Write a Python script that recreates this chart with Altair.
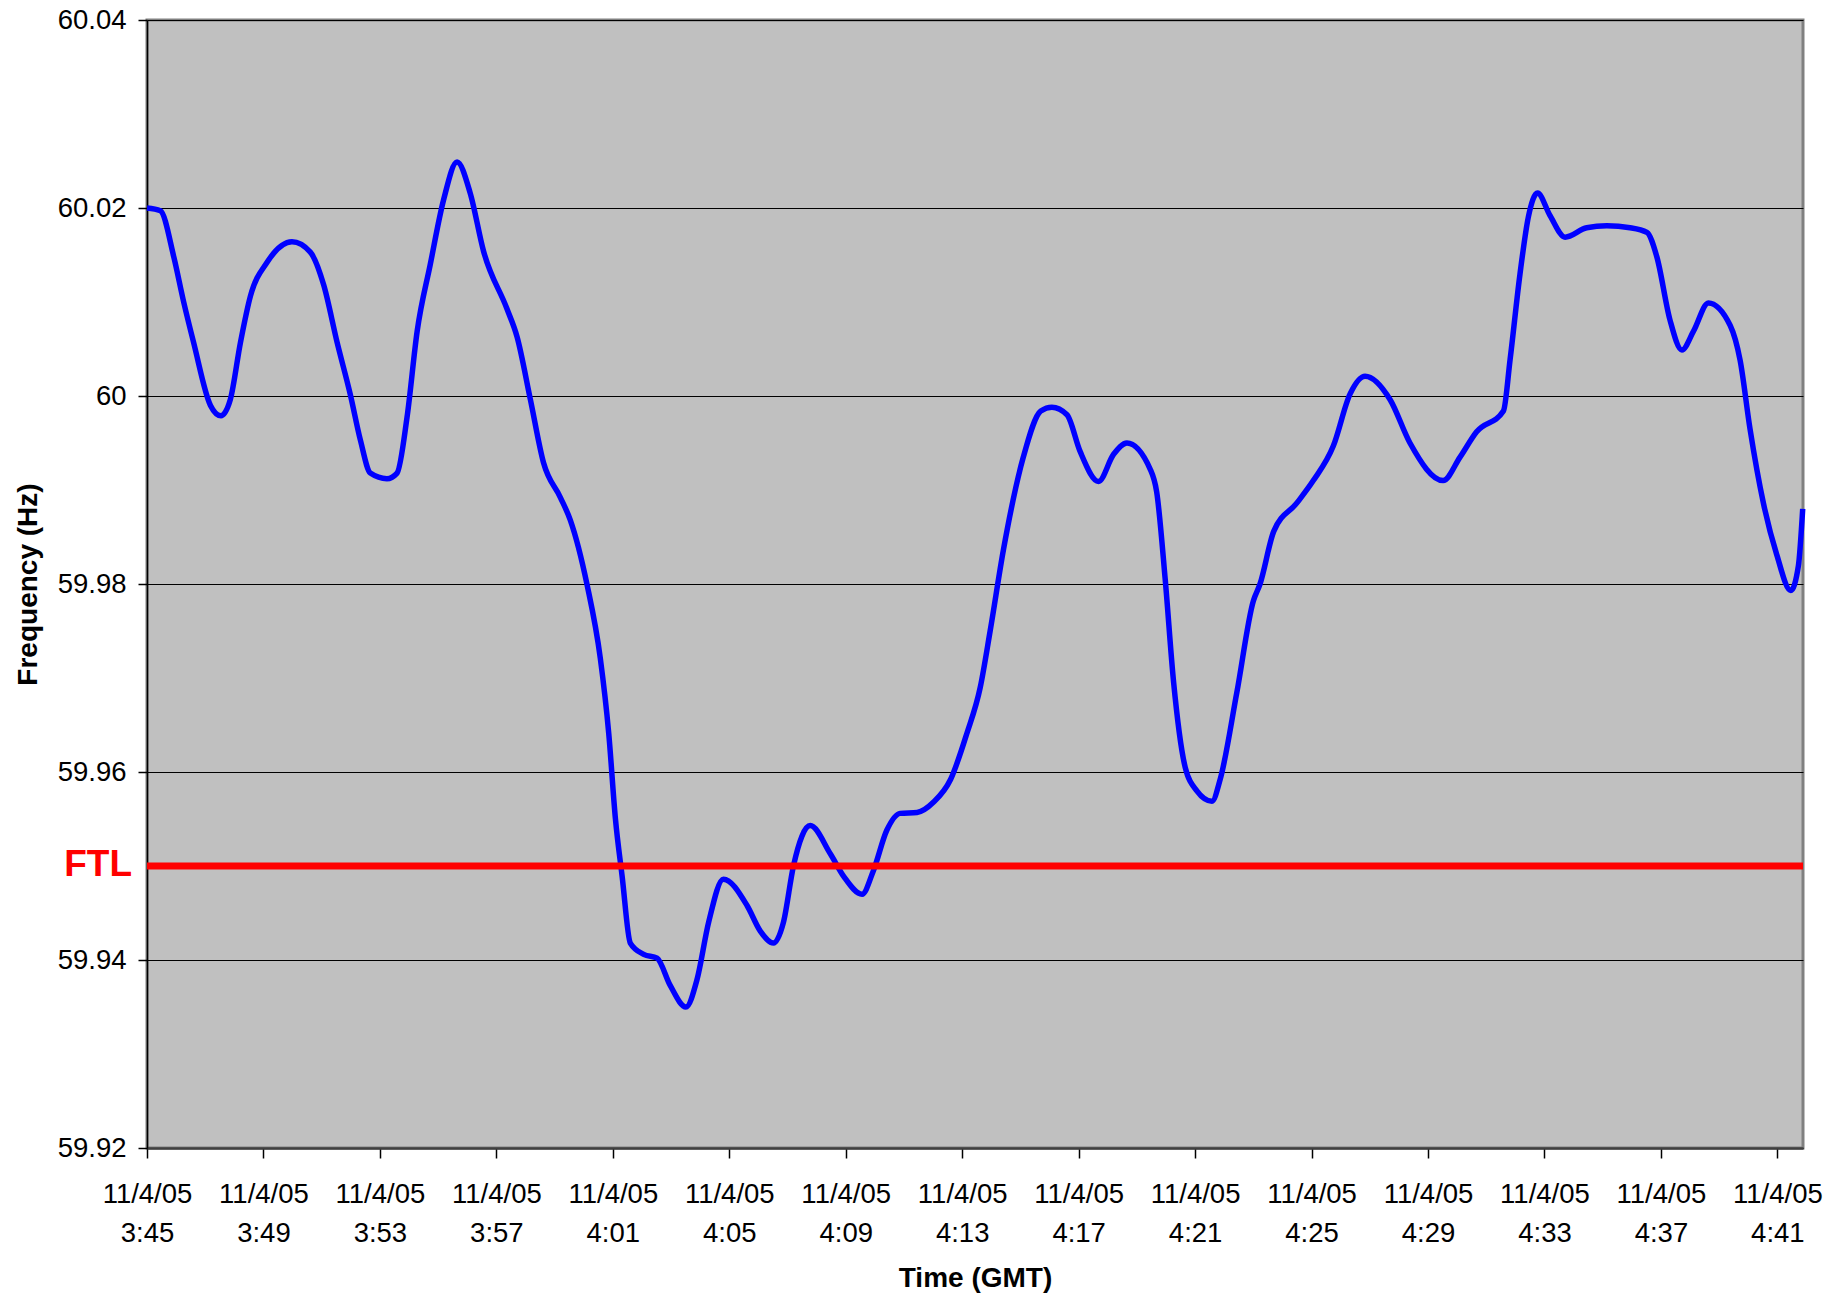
import altair as alt
import pandas as pd

# Minutes after 11/4/05 3:45 GMT
minutes = [
    0.0, 0.46, 0.92, 1.26, 1.60, 2.18, 2.54, 2.86, 3.21, 3.55, 4.12, 4.98, 5.61,
    6.07, 6.53, 6.98, 7.33, 7.67, 8.24, 8.59, 8.93, 9.28, 9.73, 10.19, 10.65,
    11.10, 11.56, 12.36, 12.71, 13.17, 13.62, 14.20, 14.54, 15.11, 15.57, 15.86,
    16.09, 16.32, 16.60, 17.06, 17.52, 17.97, 18.51, 18.89, 19.29, 19.80, 20.61,
    21.06, 21.52, 21.86, 22.21, 22.78, 23.47, 23.93, 24.56, 24.95, 25.41, 25.87,
    26.45, 27.02, 27.60, 28.16, 28.62, 28.96, 29.42, 30.10, 30.70, 31.08, 31.60,
    32.05, 32.68, 33.20, 33.66, 34.46, 34.68, 34.97, 35.26, 35.66, 36.06, 36.58,
    36.86, 37.43, 38.00, 38.23, 38.70, 39.49, 40.06, 40.75, 41.32, 41.84, 42.70,
    43.38, 44.52, 45.10, 45.67, 46.59, 46.82, 47.16, 47.45, 47.76, 48.19, 48.71,
    49.45, 50.14, 50.94, 51.52, 51.86, 52.31, 52.72, 53.12, 53.63, 54.38, 54.72,
    55.06, 55.52, 55.98, 56.46, 56.72, 56.87,
]
freq_hz = [
    60.0200, 60.0197, 60.0148, 60.0100, 60.0057, 59.9990, 59.9979, 59.9996,
    60.0057, 60.0106, 60.0142, 60.0164, 60.0153, 60.0118, 60.0057, 60.0002,
    59.9953, 59.9918, 59.9912, 59.9918, 59.9977, 60.0069, 60.0140, 60.0209,
    60.0249, 60.0216, 60.0154, 60.0093, 60.0063, 59.9996, 59.9929, 59.9892,
    59.9868, 59.9800, 59.9721, 59.9641, 59.9550, 59.9489, 59.9418, 59.9406,
    59.9402, 59.9373, 59.9350, 59.9379, 59.9440, 59.9486, 59.9458, 59.9431,
    59.9418, 59.9440, 59.9501, 59.9543, 59.9513, 59.9489, 59.9470, 59.9495,
    59.9538, 59.9556, 59.9557, 59.9568, 59.9592, 59.9641, 59.9690, 59.9750,
    59.9837, 59.9935, 59.9984, 59.9988, 59.9980, 59.9941, 59.9909, 59.9938,
    59.9950, 59.9922, 59.9898, 59.9806, 59.9696, 59.9605, 59.9580, 59.9569,
    59.9592, 59.9684, 59.9782, 59.9800, 59.9856, 59.9886, 59.9910, 59.9947,
    60.0002, 60.0021, 59.9996, 59.9950, 59.9910, 59.9935, 59.9962, 59.9984,
    60.0039, 60.0130, 60.0191, 60.0216, 60.0192, 60.0169, 60.0179, 60.0181,
    60.0179, 60.0174, 60.0148, 60.0081, 60.0049, 60.0069, 60.0099, 60.0075,
    60.0038, 59.9965, 59.9886, 59.9831, 59.9793, 59.9819, 59.9880,
]

tick_minutes = [0, 4, 8, 12, 16, 20, 24, 28, 32, 36, 40, 44, 48, 52, 56]
tick_date = "11/4/05"
tick_times = ["3:45", "3:49", "3:53", "3:57", "4:01", "4:05", "4:09", "4:13",
              "4:17", "4:21", "4:25", "4:29", "4:33", "4:37", "4:41"]
y_ticks = [59.92, 59.94, 59.96, 59.98, 60.0, 60.02, 60.04]
x_domain = [0, 56.88]
y_domain = [59.92, 60.04]
ftl_value = [59.95]
ftl_label = ["FTL"]

df = pd.DataFrame({"minute": minutes, "freq": freq_hz})
ftl_df = pd.DataFrame({"ftl": ftl_value, "label": ftl_label})

FONT = "Liberation Sans"
times_js = "[" + ",".join(f"'{t}'" for t in tick_times) + "]"
label_expr = f"['{tick_date}', {times_js}[round(datum.value / 4)]]"

x_enc = alt.X(
    "minute:Q",
    scale=alt.Scale(domain=x_domain, nice=False, zero=False),
    axis=alt.Axis(
        values=tick_minutes,
        labelExpr=label_expr,
        title="Time (GMT)",
        grid=False,
        labelFont=FONT,
        labelFontSize=27.5,
        labelColor="black",
        labelLineHeight=39,
        labelBaseline="top",
        labelPadding=22,
        labelFlush=False,
        labelOverlap=False,
        labelBound=False,
        tickSize=10,
        tickColor="black",
        tickWidth=1.5,
        domainColor="#404040",
        domainWidth=2.5,
        titleFont=FONT,
        titleFontSize=28,
        titleFontWeight="bold",
        titleColor="black",
        titleBaseline="alphabetic",
        titleY=138,
    ),
)

y_enc = alt.Y(
    "freq:Q",
    scale=alt.Scale(domain=y_domain, nice=False, zero=False),
    axis=alt.Axis(
        values=y_ticks,
        format="~g",
        title="Frequency (Hz)",
        grid=True,
        gridColor="black",
        gridWidth=1,
        labelFont=FONT,
        labelFontSize=27.5,
        labelColor="black",
        labelPadding=12,
        labelFlush=False,
        labelOverlap=False,
        tickSize=9,
        tickColor="black",
        tickWidth=1.5,
        domainColor="black",
        domainWidth=1.5,
        titleFont=FONT,
        titleFontSize=28,
        titleFontWeight="bold",
        titleColor="black",
        titleBaseline="alphabetic",
        titleAngle=270,
        titleAlign="center",
        titleX=-111,
        titleY=564,
    ),
)

line = alt.Chart(df).mark_line(
    color="#0000FF", strokeWidth=5.5, interpolate="monotone"
).encode(x=x_enc, y=y_enc)

ftl_rule = alt.Chart(ftl_df).mark_rule(color="#FF0000", strokeWidth=7).encode(
    y=alt.Y("ftl:Q")
)

ftl_text = alt.Chart(ftl_df).mark_text(
    color="#FF0000",
    font=FONT,
    fontSize=37,
    fontWeight="bold",
    align="right",
    baseline="alphabetic",
    dy=10,
).encode(
    x=alt.value(-15),
    y=alt.Y("ftl:Q"),
    text="label:N",
)

chart = (
    alt.layer(line, ftl_rule, ftl_text)
    .properties(
        width=1656,
        height=1128,
        autosize=alt.AutoSizeParams(type="none"),
        padding={"left": 139, "top": 12, "right": 20, "bottom": 145},
        background="white",
    )
    .configure_view(fill="#C0C0C0", stroke="#808080", strokeWidth=3)
)

chart.save("out.html", embed_options={"renderer": "svg", "actions": False})
